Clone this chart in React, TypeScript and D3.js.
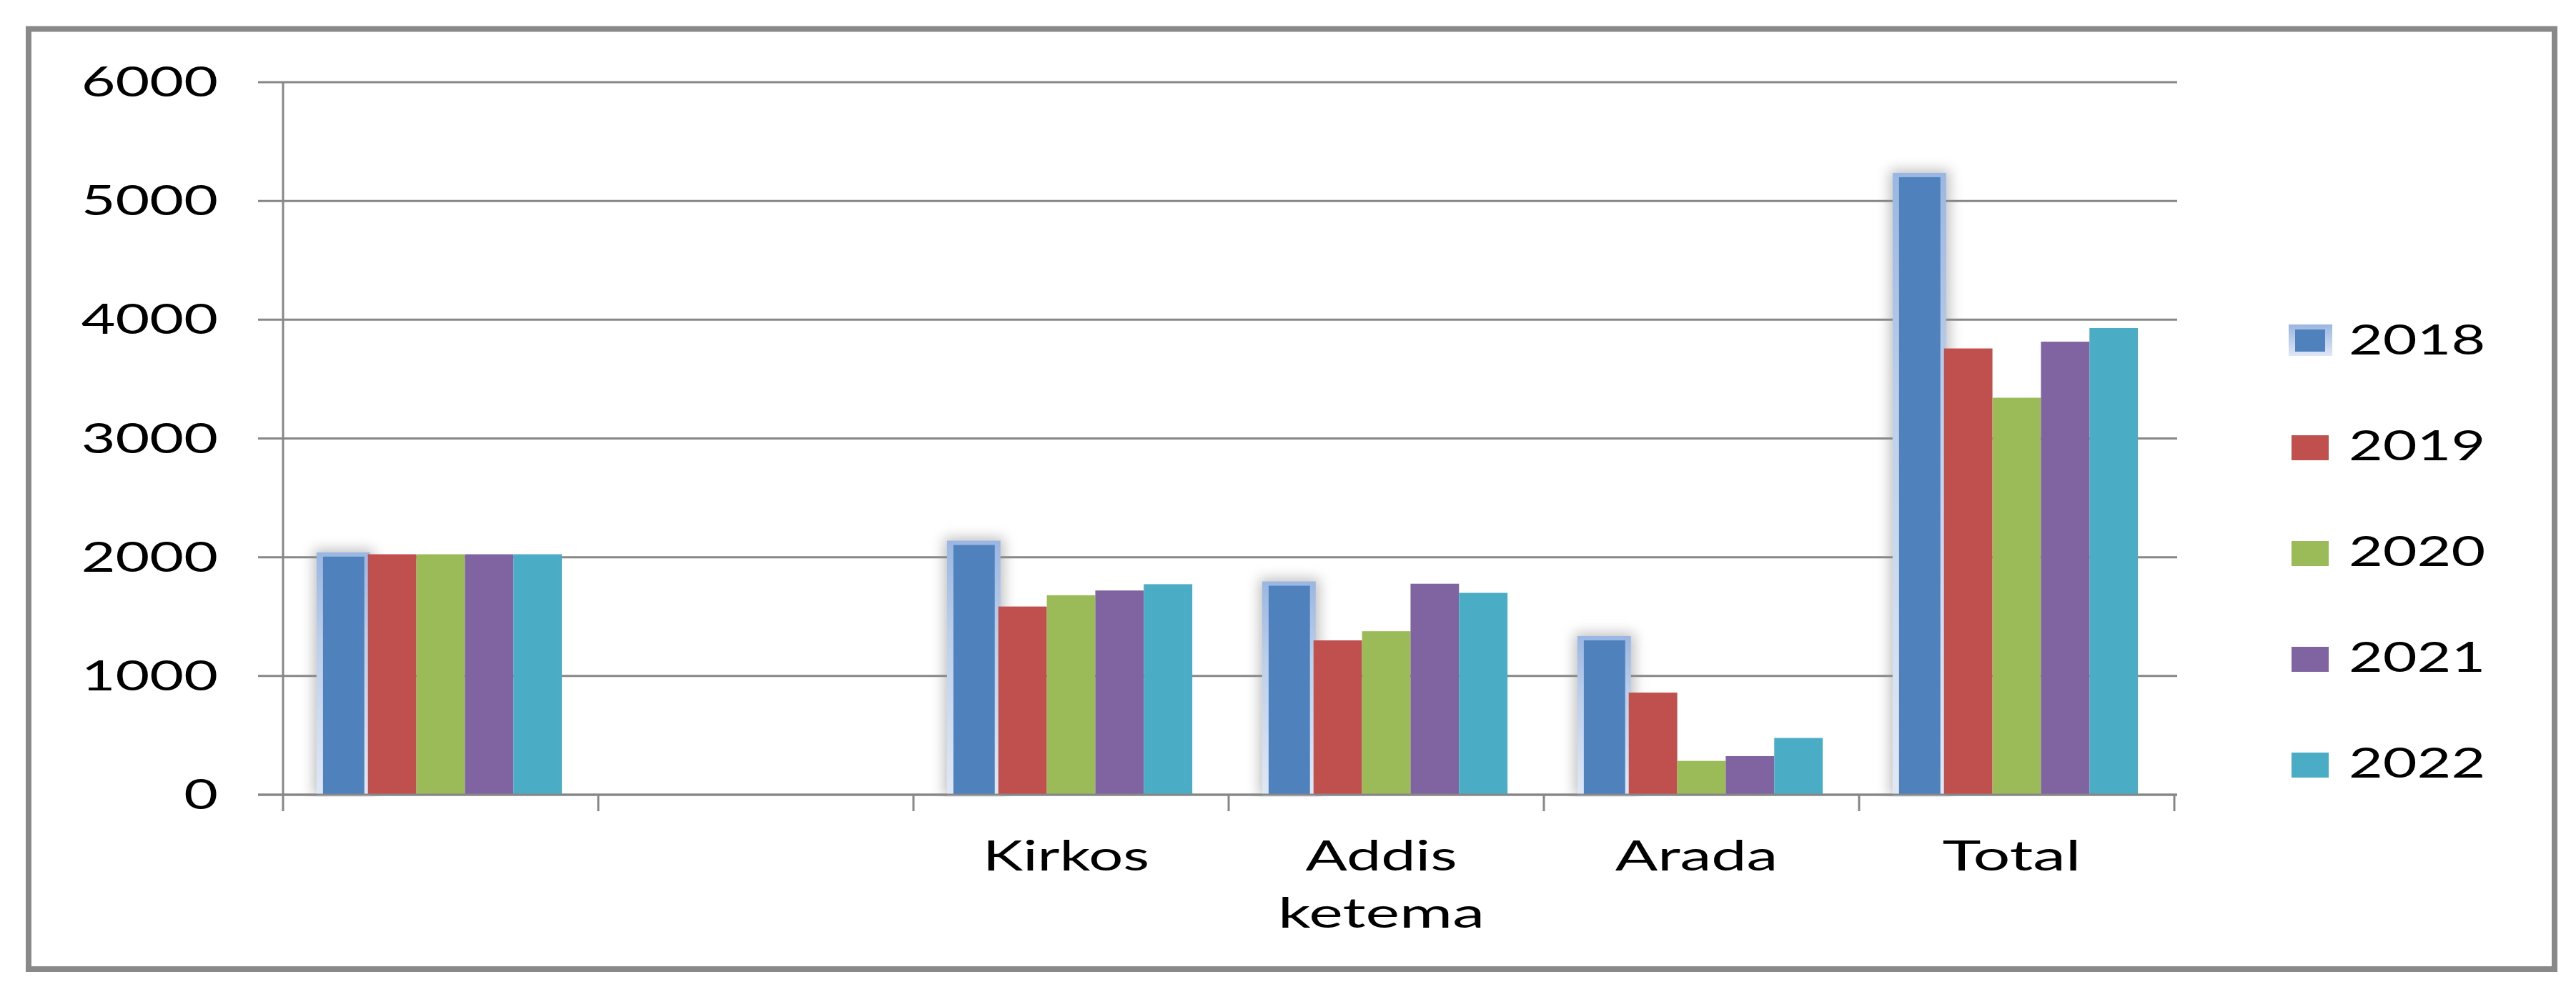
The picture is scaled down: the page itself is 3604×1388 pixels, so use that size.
import React from "react";
import * as d3 from "d3";

// ---------- data ----------
const CATEGORIES: string[][] = [[""], [""], ["Kirkos"], ["Addis", "ketema"], ["Arada"], ["Total"]];
const YEARS = ["2018", "2019", "2020", "2021", "2022"];
const S2018: (number | null)[] = [2005, null, 2103, 1760, 1300, 5200];
const S2019: (number | null)[] = [2025, null, 1585, 1300, 860, 3758];
const S2020: (number | null)[] = [2025, null, 1680, 1377, 285, 3343];
const S2021: (number | null)[] = [2025, null, 1720, 1777, 325, 3815];
const S2022: (number | null)[] = [2025, null, 1773, 1700, 478, 3930];
const SERIES = [S2018, S2019, S2020, S2021, S2022];
const COLORS = ["#4f81bd", "#c0504d", "#9bbb59", "#8064a2", "#4bacc6"];
const Y_TICKS = [0, 1000, 2000, 3000, 4000, 5000, 6000];

// ---------- layout ----------
const W = 3604;
const H = 1388;
const X0 = 396;
const X1 = 3042;
const Y0 = 1112;
const YTOP = 115;
const EM = 94.3; // stretched em width (px) of the original narrow font
const FONT = "Lato, 'DejaVu Sans', sans-serif";
const FS = 58;

const CAL: Record<string, number> = {
  K: 0.52, i: 0.229, r: 0.349, k: 0.455, o: 0.527, s: 0.391, A: 0.579, d: 0.525,
  e: 0.498, t: 0.335, m: 0.799, a: 0.479, T: 0.487, l: 0.229,
};
const textW = (s: string) =>
  s.split("").reduce((acc, c) => acc + (/[0-9]/.test(c) ? 0.507 : CAL[c] ?? 0.5), 0) * EM;

export default function App() {
  const x = d3.scaleBand<number>().domain(d3.range(CATEGORIES.length)).range([X0, X1]).padding(0);
  const xs = d3.scaleBand<number>().domain(d3.range(YEARS.length)).range([0, x.bandwidth()]).paddingInner(0).paddingOuter(0.75);
  const y = d3.scaleLinear().domain([0, 6000]).range([Y0, YTOP]);
  const b = xs.bandwidth();

  const gridColor = "#878787";

  return (
    <svg width={W} height={H} style={{ position: "absolute", left: 0, top: 0, background: "#fff" }}>
      <defs>
        <filter id="blur" x="-100%" y="-20%" width="300%" height="140%">
          <feGaussianBlur stdDeviation="9" />
        </filter>
        <linearGradient id="glow" x1="0" y1="0" x2="0" y2="1">
          <stop offset="0" stopColor="#9ab6e2" />
          <stop offset="0.35" stopColor="#bccee9" />
          <stop offset="1" stopColor="#e0e8f5" />
        </linearGradient>
        <linearGradient id="glowL" x1="0" y1="0" x2="0" y2="1">
          <stop offset="0" stopColor="#9ab6e2" />
          <stop offset="1" stopColor="#dfe7f5" />
        </linearGradient>
        <clipPath id="plotclip">
          <rect x={0} y={0} width={W} height={Y0 + 3} />
        </clipPath>
      </defs>
      <rect x={0} y={0} width={W} height={H} fill="#fff" />

      {/* gridlines */}
      {Y_TICKS.map((t) => (
        <line key={"g" + t} x1={361} x2={X1 + 4} y1={y(t)} y2={y(t)} stroke={gridColor} strokeWidth={3} />
      ))}

      {/* bars */}
      {CATEGORIES.map((_, ci) => {
        const cx = x(ci)!;
        return (
          <g key={"c" + ci}>
            {SERIES[0][ci] != null && (
              <rect
                clipPath="url(#plotclip)"
                x={cx + xs(0)! - 8}
                width={b + 16}
                y={y(SERIES[0][ci] as number) - 10}
                height={Y0 - y(SERIES[0][ci] as number) + 12}
                fill="#8a8a8a"
                opacity={0.55}
                filter="url(#blur)"
              />
            )}
            {SERIES.map((s, si) => {
              const v = s[ci];
              if (v == null) return null;
              const bx = cx + xs(si)!;
              const top = y(v);
              if (si === 0) {
                return (
                  <g key={si}>
                    <rect x={bx - 4} width={b + 7} y={top - 6} height={Y0 - top + 9} fill="url(#glow)" />
                    <rect x={bx + 5} width={b - 10} y={top} height={Y0 - top} fill={COLORS[0]} />
                  </g>
                );
              }
              return <rect key={si} x={bx} width={b} y={top} height={Y0 - top} fill={COLORS[si]} />;
            })}
          </g>
        );
      })}

      {/* axes */}
      <line x1={X0} x2={X0} y1={YTOP} y2={Y0 + 23} stroke={gridColor} strokeWidth={3} />
      <line x1={361} x2={X1 + 4} y1={Y0} y2={Y0} stroke={gridColor} strokeWidth={3} />
      {d3.range(1, CATEGORIES.length + 1).map((i) => (
        <line key={"t" + i} x1={X0 + i * x.bandwidth()} x2={X0 + i * x.bandwidth()} y1={Y0} y2={Y0 + 23} stroke={gridColor} strokeWidth={3} />
      ))}

      {/* y tick labels */}
      {Y_TICKS.map((t) => {
        const s = String(t);
        const w = textW(s);
        return (
          <text key={"yl" + t} x={305 - w} y={y(t) + 20} fontFamily={FONT} fontSize={FS} textLength={w} lengthAdjust="spacingAndGlyphs" fill="#000">
            {s}
          </text>
        );
      })}

      {/* x labels */}
      {CATEGORIES.map((lines, ci) =>
        lines.map((ln, li) => {
          if (!ln) return null;
          const w = textW(ln);
          const c = x(ci)! + x.bandwidth() / 2 - 7;
          return (
            <text key={"xl" + ci + li} x={c - w / 2} y={1218 + li * 80} fontFamily={FONT} fontSize={FS} textLength={w} lengthAdjust="spacingAndGlyphs" fill="#000">
              {ln}
            </text>
          );
        })
      )}

      {/* legend */}
      {YEARS.map((yr, i) => {
        const base = 496 + i * 148;
        const w = textW(yr);
        return (
          <g key={"lg" + yr}>
            {i === 0 ? (
              <g>
                <rect x={3202} y={base - 42} width={61} height={44} fill="url(#glowL)" />
                <rect x={3211} y={base - 35} width={42} height={31} fill={COLORS[0]} />
              </g>
            ) : (
              <rect x={3206} y={base - 35} width={52} height={35} fill={COLORS[i]} />
            )}
            <text x={3286} y={base} fontFamily={FONT} fontSize={FS} textLength={w} lengthAdjust="spacingAndGlyphs" fill="#000">
              {yr}
            </text>
          </g>
        );
      })}

      {/* outer frame */}
      <rect x={40} y={40.5} width={3534} height={1315.5} fill="none" stroke="#898989" strokeWidth={8} />
    </svg>
  );
}
